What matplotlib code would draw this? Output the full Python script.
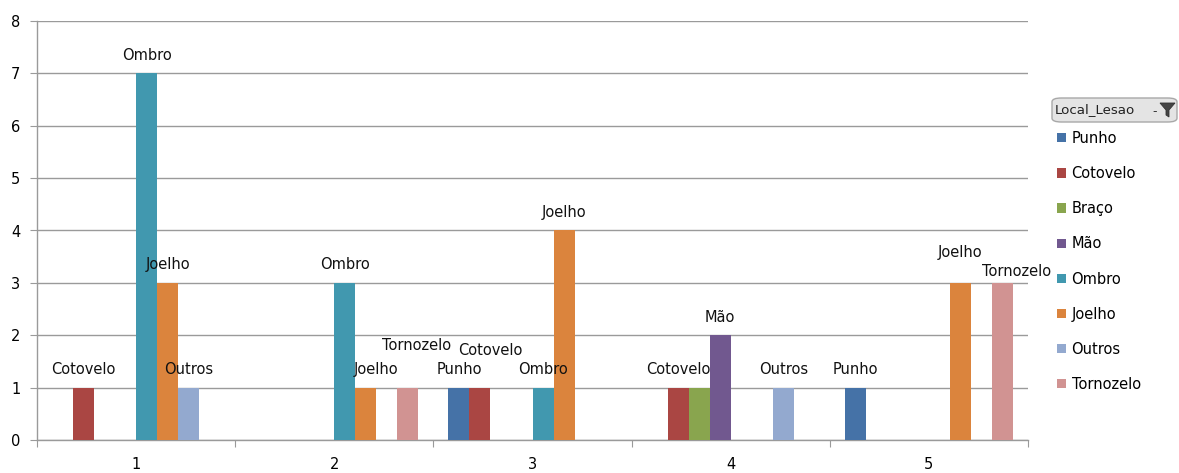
import numpy as np
import matplotlib
matplotlib.use("Agg")
import matplotlib.pyplot as plt
from matplotlib.patches import FancyBboxPatch, Polygon

# data
groups = [1, 2, 3, 4, 5]
series = ["Punho", "Cotovelo", "Braço", "Mão", "Ombro", "Joelho", "Outros", "Tornozelo"]
punho = [0, 0, 1, 0, 1]
cotovelo = [1, 0, 1, 1, 0]
braco = [0, 0, 0, 1, 0]
mao = [0, 0, 0, 2, 0]
ombro = [7, 3, 1, 0, 0]
joelho = [3, 1, 4, 0, 3]
outros = [1, 0, 0, 1, 0]
tornozelo = [0, 1, 0, 0, 3]
values = [punho, cotovelo, braco, mao, ombro, joelho, outros, tornozelo]

colors = ["#4572A7", "#AA4643", "#89A54E", "#71588F",
          "#4198AF", "#DB843D", "#93A9CF", "#D19392"]

# Excel moved a few labels to avoid overlaps (pixel shifts), one was hidden
label_shift = {
    (1, "Joelho"): (10, 0),
    (1, "Tornozelo"): (9, 24),
    (2, "Cotovelo"): (10, 19),
    (4, "Joelho"): (0, 12),
    (4, "Tornozelo"): (14, -7),
}
hidden_labels = {(3, "Braço")}
FS = 10.5
LINE = "#9a9a9a"

fig = plt.figure(figsize=(11.79, 4.73), dpi=100)
ax = fig.add_axes([37 / 1179, 1 - 440 / 473, (1028 - 37) / 1179, (440 - 21) / 473])

x = np.arange(len(groups))
w = 0.106
handles = []
for i, (name, vals) in enumerate(zip(series, values)):
    pos = x + (i - 3.5) * w
    b = ax.bar(pos, vals, width=w, color=colors[i], zorder=3, label=name)
    handles.append(b)
    for g, (px, v) in enumerate(zip(pos, vals)):
        if v == 0 or (g, name) in hidden_labels:
            continue
        dx, dy = label_shift.get((g, name), (0, 0))
        ax.annotate(name, (px, v), xytext=(dx, 18 + dy), textcoords="offset pixels",
                    ha="center", va="center", fontsize=FS, color="#111111", zorder=4)

ax.set_xlim(-0.5, len(groups) - 0.5)
ax.set_ylim(0, 8)
ax.set_yticks(range(0, 9))
ax.set_xticks(np.arange(len(groups) + 1) - 0.5)
ax.set_xticklabels([])
ax.set_xticks(x, minor=True)
ax.set_xticklabels([str(g) for g in groups], minor=True)
ax.tick_params(axis="x", which="minor", length=0, pad=12.5, labelsize=FS)
ax.tick_params(axis="x", which="major", length=5, color=LINE, direction="out")
ax.tick_params(axis="y", length=5, color=LINE, labelsize=FS, pad=7)
ax.grid(axis="y", color=LINE, linewidth=1, zorder=0)
for s in ["top", "right"]:
    ax.spines[s].set_visible(False)
for s in ["left", "bottom"]:
    ax.spines[s].set_color(LINE)
    ax.spines[s].set_linewidth(1)

# legend with pivot field button
fig.legend(handles=handles, labels=series, loc="upper left",
           bbox_to_anchor=(1057 / 1179, 1 - 131 / 473), frameon=False,
           fontsize=FS, handlelength=0.6, handleheight=0.6, handletextpad=0.4,
           labelspacing=1.38, borderaxespad=0, borderpad=0)

btn = FancyBboxPatch((1052 / 1179, 1 - 122 / 473), 125 / 1179, 24 / 473,
                     boxstyle="round,pad=0,rounding_size=0.008",
                     transform=fig.transFigure, facecolor="#e4e4e4",
                     edgecolor="#a8a8a8", linewidth=1)
fig.patches.append(btn)
fig.text(1055 / 1179, 1 - 110 / 473, "Local_Lesao", fontsize=9.6,
         va="center", ha="left", color="#222222")
funnel = Polygon([[1160 / 1179, 1 - 103 / 473], [1175 / 1179, 1 - 103 / 473],
                  [1169 / 1179, 1 - 110 / 473], [1169 / 1179, 1 - 117 / 473],
                  [1166 / 1179, 1 - 115 / 473], [1166 / 1179, 1 - 110 / 473]],
                 closed=True, transform=fig.transFigure, facecolor="#444444",
                 edgecolor="#333333", linewidth=0.6)
fig.patches.append(funnel)
fig.text(1155 / 1179, 1 - 112 / 473, "-", fontsize=9, va="center", ha="center",
         color="#333333")

fig.savefig("out.png", dpi=100)
